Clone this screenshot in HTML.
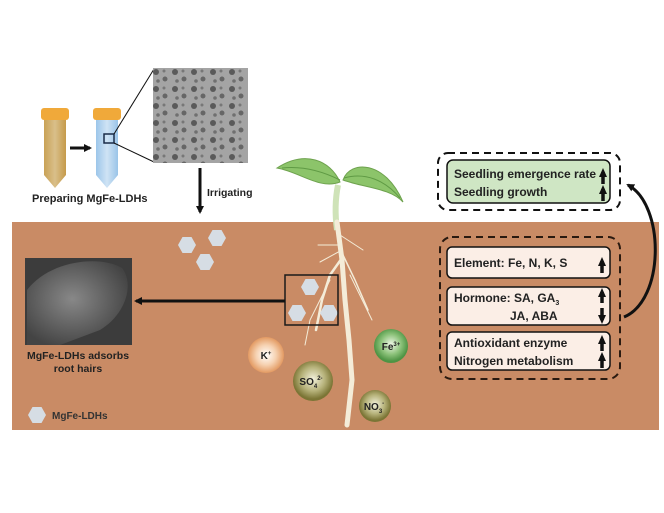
<!DOCTYPE html>
<html><head><meta charset="utf-8"><style>
body{margin:0;background:#fff}
svg{display:block;font-family:"Liberation Sans",sans-serif;font-weight:bold}
</style></head><body>
<svg width="664" height="513" viewBox="0 0 664 513" xmlns="http://www.w3.org/2000/svg">
<defs>
<radialGradient id="gk" cx="50%" cy="50%" r="50%"><stop offset="0" stop-color="#fff"/><stop offset=".55" stop-color="#f6d2b2"/><stop offset="1" stop-color="#e39a62"/></radialGradient>
<radialGradient id="go" cx="50%" cy="45%" r="50%"><stop offset="0" stop-color="#f3f2dc"/><stop offset=".6" stop-color="#b6b27a"/><stop offset="1" stop-color="#7b7535"/></radialGradient>
<radialGradient id="gg" cx="50%" cy="45%" r="50%"><stop offset="0" stop-color="#f0f8e8"/><stop offset=".6" stop-color="#8cc27a"/><stop offset="1" stop-color="#4e9444"/></radialGradient>
<linearGradient id="t1" x1="0" x2="1"><stop offset="0" stop-color="#c9a256"/><stop offset=".5" stop-color="#d9bf8a"/><stop offset="1" stop-color="#c59a4a"/></linearGradient>
<linearGradient id="t2" x1="0" x2="1"><stop offset="0" stop-color="#9cc6ea"/><stop offset=".5" stop-color="#cfe3f4"/><stop offset="1" stop-color="#9ac4e8"/></linearGradient>
<pattern id="tem" width="19" height="17" patternUnits="userSpaceOnUse"><rect width="19" height="17" fill="#a4a4a4"/><circle cx="4" cy="4" r="3" fill="#5a5a5a"/><circle cx="13" cy="11" r="2.5" fill="#666"/><circle cx="12" cy="3" r="1.5" fill="#777"/><circle cx="6" cy="13" r="1.8" fill="#707070"/></pattern>
<radialGradient id="sem" cx="45%" cy="45%" r="60%"><stop offset="0" stop-color="#888"/><stop offset="1" stop-color="#444"/></radialGradient>
<marker id="ah" markerWidth="8" markerHeight="8" refX="6" refY="4" orient="auto" markerUnits="userSpaceOnUse"><path d="M0,0L8,4L0,8z" fill="#111"/></marker>
<marker id="ah2" markerWidth="9" markerHeight="8" refX="5" refY="4" orient="auto" markerUnits="userSpaceOnUse"><path d="M0,0L9,4L0,8z" fill="#111"/></marker>
<symbol id="hx" viewBox="-10 -9 20 18"><polygon points="-9,0 -4.5,-8 4.5,-8 9,0 4.5,8 -4.5,8" fill="#d6dde4"/></symbol>
</defs>
<rect x="12" y="222" width="647" height="208" fill="#c98b65"/>
<rect x="41" y="108" width="28" height="12" rx="3" fill="#f0a93a"/>
<path d="M44,120 H66 V175 L55,188 L44,175 Z" fill="url(#t1)"/>
<rect x="93" y="108" width="28" height="12" rx="3" fill="#f0a93a"/>
<path d="M96,120 H118 V175 L107,188 L96,175 Z" fill="url(#t2)"/>
<line x1="70" y1="148" x2="90" y2="148" stroke="#111" stroke-width="3" marker-end="url(#ah)"/>
<rect x="104" y="134" width="10" height="9" fill="none" stroke="#1a2c48" stroke-width="1.5"/>
<line x1="114" y1="134" x2="154" y2="69" stroke="#111"/>
<line x1="114" y1="143" x2="154" y2="162" stroke="#111"/>
<rect x="153" y="68" width="95" height="95" fill="url(#tem)"/>
<text x="32" y="202" font-size="11" fill="#222">Preparing MgFe-LDHs</text>
<line x1="200" y1="168" x2="200" y2="212" stroke="#111" stroke-width="3" marker-end="url(#ah)"/>
<text x="207" y="196" font-size="10.5" fill="#222">Irrigating</text>
<path d="M338,185 C335,200 335,215 337,230" stroke="#cfe3b8" stroke-width="6" fill="none"/>
<path d="M340,182 C330,160 305,150 277,168 C300,172 320,190 340,182Z" fill="#8cc46a" stroke="#6ea24e"/>
<path d="M343,180 C350,160 385,160 403,202 C390,188 365,188 343,180Z" fill="#8cc46a" stroke="#6ea24e"/>
<path d="M340,180 C320,170 300,166 282,168 M344,178 C365,172 385,180 400,198" stroke="#5f9a44" stroke-width="1" fill="none"/>
<g stroke="#f4ecd8" fill="none" stroke-linecap="round">
<path d="M337,222 L342,260 L345,300 L349,340 L352,380 L347,425" stroke-width="5"/>
<path d="M342,258 L330,275 L322,300 L316,330" stroke-width="2.5"/>
<path d="M343,255 L355,280 L368,310" stroke-width="1.5"/>
<path d="M341,245 L318,245" stroke-width="1"/>
<path d="M340,235 L363,250" stroke-width="1"/>
<path d="M330,280 L310,320 L305,345" stroke-width="1"/>
<path d="M350,275 L372,320" stroke-width="1"/>
<path d="M342,250 L320,262" stroke-width="1"/>
</g>
<use href="#hx" x="177" y="236" width="20" height="18"/>
<use href="#hx" x="207" y="229" width="20" height="18"/>
<use href="#hx" x="195" y="253" width="20" height="18"/>
<use href="#hx" x="300" y="278" width="20" height="18"/>
<use href="#hx" x="287" y="304" width="20" height="18"/>
<use href="#hx" x="319" y="304" width="20" height="18"/>
<rect x="285" y="275" width="53" height="50" fill="none" stroke="#1a1a1a" stroke-width="1.5"/>
<line x1="285" y1="301" x2="136" y2="301" stroke="#111" stroke-width="3" marker-end="url(#ah)"/>
<rect x="25" y="258" width="107" height="87" fill="#3c3c3c"/>
<path d="M27,345 L27,290 C50,260 100,255 122,268 C135,285 125,315 100,330 L60,345Z" fill="url(#sem)"/>
<text x="78" y="359" font-size="10.5" fill="#222" text-anchor="middle">MgFe-LDHs adsorbs</text>
<text x="78" y="372" font-size="10.5" fill="#222" text-anchor="middle">root hairs</text>
<circle cx="266" cy="355" r="18" fill="url(#gk)"/>
<text x="266" y="359" font-size="10" text-anchor="middle" fill="#222">K<tspan font-size="6" dy="-4">+</tspan></text>
<circle cx="313" cy="381" r="20" fill="url(#go)"/>
<text x="311" y="385" font-size="10" text-anchor="middle" fill="#222">SO<tspan font-size="6" dy="3">4</tspan><tspan font-size="6" dy="-8">2-</tspan></text>
<circle cx="391" cy="346" r="17" fill="url(#gg)"/>
<text x="391" y="350" font-size="10" text-anchor="middle" fill="#222">Fe<tspan font-size="6" dy="-4">3+</tspan></text>
<circle cx="375" cy="406" r="16" fill="url(#go)"/>
<text x="374" y="410" font-size="10" text-anchor="middle" fill="#222">NO<tspan font-size="6" dy="3">3</tspan><tspan font-size="6" dy="-8">-</tspan></text>
<use href="#hx" x="27" y="406" width="20" height="18"/>
<text x="52" y="419" font-size="10" fill="#333">MgFe-LDHs</text>
<rect x="438" y="153" width="182" height="57" rx="10" fill="none" stroke="#111" stroke-width="2" stroke-dasharray="7,5"/>
<rect x="447" y="160" width="163" height="43" rx="6" fill="#cfe6c4" stroke="#111" stroke-width="1.5"/>
<text x="454" y="178" font-size="12" fill="#222">Seedling emergence rate</text>
<text x="454" y="196" font-size="12" fill="#222">Seedling growth</text>
<rect x="440" y="237" width="180" height="142" rx="12" fill="none" stroke="#2a1a10" stroke-width="2" stroke-dasharray="7,5"/>
<g fill="#fbeee6" stroke="#111" stroke-width="1.5">
<rect x="447" y="247" width="163" height="31" rx="5"/>
<rect x="447" y="287" width="163" height="38" rx="5"/>
<rect x="447" y="332" width="163" height="38" rx="5"/>
</g>
<g font-size="12" fill="#222">
<text x="454" y="267">Element: Fe, N, K, S</text>
<text x="454" y="302">Hormone: SA, GA<tspan font-size="7" dy="3">3</tspan></text>
<text x="510" y="320">JA, ABA</text>
<text x="454" y="347">Antioxidant enzyme</text>
<text x="454" y="365">Nitrogen metabolism</text>
</g>
<g stroke="#111" stroke-width="3.5" fill="none">
<line x1="603" y1="184" x2="603" y2="172" marker-end="url(#ah2)"/>
<line x1="603" y1="201" x2="603" y2="189" marker-end="url(#ah2)"/>
<line x1="602" y1="273" x2="602" y2="261" marker-end="url(#ah2)"/>
<line x1="602" y1="303" x2="602" y2="292" marker-end="url(#ah2)"/>
<line x1="602" y1="308" x2="602" y2="320" marker-end="url(#ah2)"/>
<line x1="602" y1="351" x2="602" y2="339" marker-end="url(#ah2)"/>
<line x1="602" y1="368" x2="602" y2="356" marker-end="url(#ah2)"/>
</g>
<path d="M624,317 C665,300 665,205 628,185" stroke="#111" stroke-width="3" fill="none" marker-end="url(#ah)"/>
</svg>
</body></html>
